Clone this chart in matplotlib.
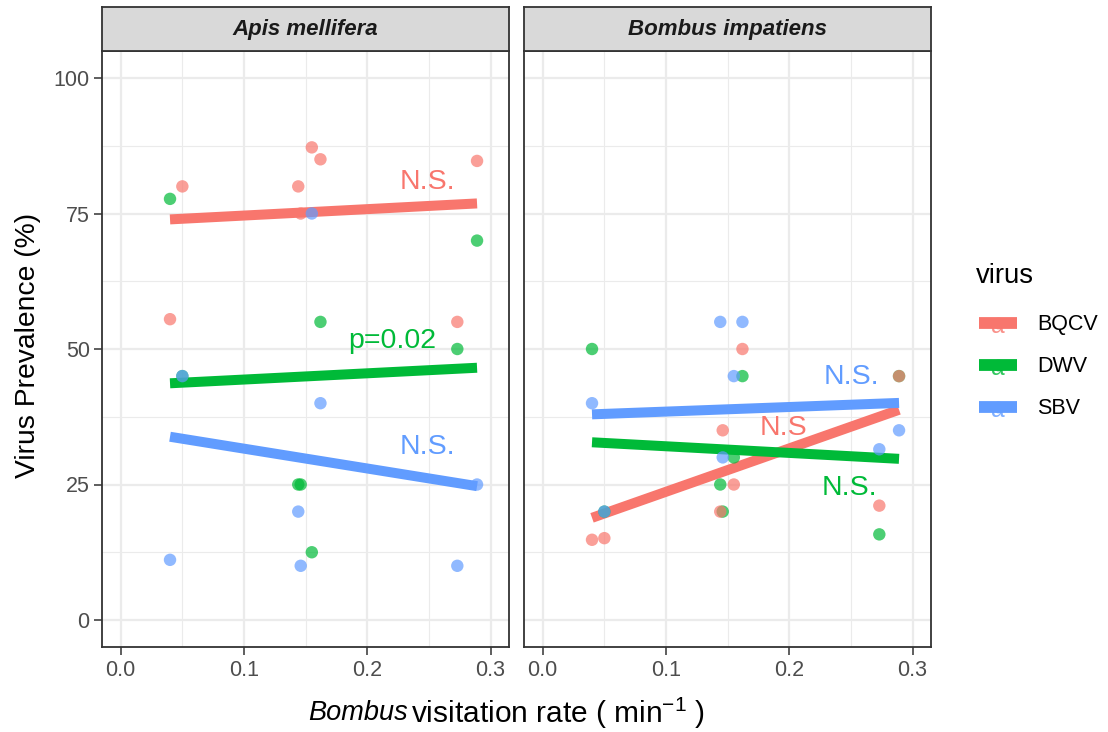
import numpy as np
import matplotlib
matplotlib.use("Agg")
import matplotlib.pyplot as plt
from matplotlib.lines import Line2D
from matplotlib.text import Text
from matplotlib.legend_handler import HandlerBase

# ---------------- data ----------------
panels = ["Apis mellifera", "Bombus impatiens"]
viruses = ["BQCV", "DWV", "SBV"]
x_sites = [0.040, 0.050, 0.144, 0.146, 0.155, 0.162, 0.273, 0.289]

bqcv_apis = [55.5, 80.0, 80.0, 75.0, 87.2, 85.0, 55.0, 84.7]
dwv_apis = [77.7, 45.0, 25.0, 25.0, 12.5, 55.0, 50.0, 70.0]
sbv_apis = [11.1, 45.0, 20.0, 10.0, 75.0, 40.0, 10.0, 25.0]

bqcv_bomb = [14.8, 15.1, 20.0, 35.0, 25.0, 50.0, 21.1, 45.0]
dwv_bomb = [50.0, 20.0, 25.0, 20.0, 30.0, 45.0, 15.8, 45.0]
sbv_bomb = [40.0, 20.0, 55.0, 30.0, 45.0, 55.0, 31.5, 35.0]

# annotation labels: (text, virus, x, y)
ann_apis = [("N.S.", "BQCV", 0.249, 80.8), ("p=0.02", "DWV", 0.220, 51.5),
            ("N.S.", "SBV", 0.249, 31.9)]
ann_bomb = [("N.S.", "SBV", 0.250, 44.8), ("N.S", "BQCV", 0.195, 35.4),
            ("N.S.", "DWV", 0.249, 24.3)]

x_ticks = [0.0, 0.1, 0.2, 0.3]
y_ticks = [0, 25, 50, 75, 100]

# ---------------- style ----------------
plt.rcParams['font.family'] = ['Liberation Sans', 'DejaVu Sans']
plt.rcParams['mathtext.fontset'] = 'custom'
plt.rcParams['mathtext.rm'] = 'Liberation Sans'
plt.rcParams['mathtext.it'] = 'Liberation Sans:italic'

colors = {"BQCV": "#F8766D", "DWV": "#00BA38", "SBV": "#619CFF"}
grid_c = "#EBEBEB"
border_c = "#333333"
tick_text_c = "#4D4D4D"

W, H = 1108, 732
fig = plt.figure(figsize=(W / 100, H / 100), dpi=100)

def fx(px):
    return px / W

def fy(py):
    return 1 - py / H

ax_top, ax_bot = 50.9, 647.1
strip_top = 7.0
lefts = [102.2, 524.2]
width_px = 406.9

data = {
    "Apis mellifera": {"BQCV": bqcv_apis, "DWV": dwv_apis, "SBV": sbv_apis},
    "Bombus impatiens": {"BQCV": bqcv_bomb, "DWV": dwv_bomb, "SBV": sbv_bomb},
}
anns = {"Apis mellifera": ann_apis, "Bombus impatiens": ann_bomb}

for i, name in enumerate(panels):
    ax = fig.add_axes([fx(lefts[i]), fy(ax_bot), width_px / W, (ax_bot - ax_top) / H])
    ax.set_xlim(-0.015, 0.315)
    ax.set_ylim(-5, 105)
    ax.set_xticks(x_ticks)
    ax.set_xticklabels([f"{t:.1f}" for t in x_ticks])
    ax.set_yticks(y_ticks)
    ax.set_xticks([0.05, 0.15, 0.25], minor=True)
    ax.set_yticks([12.5, 37.5, 62.5, 87.5], minor=True)
    ax.grid(which='major', color=grid_c, lw=1.6, zorder=0)
    ax.grid(which='minor', color=grid_c, lw=0.8, zorder=0)
    ax.set_axisbelow(True)
    for s in ax.spines.values():
        s.set_color(border_c)
        s.set_linewidth(1.3)
    ax.tick_params(axis='both', which='major', length=5.5, width=1.1, color=border_c,
                   labelsize=15.5, labelcolor=tick_text_c, pad=3.5)
    ax.tick_params(axis='both', which='minor', length=0)
    if i == 1:
        ax.tick_params(axis='y', labelleft=False, length=0)

    xs = np.array(x_sites)
    # regression lines (linear fit per virus)
    for v in viruses:
        ys = np.array(data[name][v])
        k, b = np.polyfit(xs, ys, 1)
        xl = np.array([xs.min(), xs.max()])
        ax.plot(xl, k * xl + b, color=colors[v], lw=7.2, solid_capstyle='butt', zorder=2)
    # points
    for v in ["DWV", "BQCV", "SBV"]:
        ax.scatter(xs, data[name][v], s=80, color=colors[v], alpha=0.7,
                   edgecolors='none', zorder=3)
    for txt, v, tx, ty in anns[name]:
        ax.text(tx, ty, txt, color=colors[v], fontsize=20.5, ha='center', va='center', zorder=4)

    # strip
    sax = fig.add_axes([fx(lefts[i]), fy(ax_top), width_px / W, (ax_top - strip_top) / H])
    sax.set_facecolor("#D9D9D9")
    sax.set_xticks([])
    sax.set_yticks([])
    for s in sax.spines.values():
        s.set_color(border_c)
        s.set_linewidth(1.3)
    sax.text(0.5, 0.48, name, transform=sax.transAxes, ha='center', va='center',
             fontsize=16, fontweight='bold', fontstyle='italic', color="#1A1A1A")

# axis titles
fig.text(fx(28), fy(345), "Virus Prevalence (%)", rotation=90, ha='center', va='center',
         fontsize=20.3, color='black')
fig.text(fx(308), fy(713), "Bombus", ha='left', va='center', fontsize=19.5,
         fontstyle='italic', color='black')
fig.text(fx(411), fy(713), r"visitation rate ( min$^{-1}$ )", ha='left', va='center',
         fontsize=21.5, color='black')

# legend
class KeyHandler(HandlerBase):
    def create_artists(self, legend, orig_handle, xdescent, ydescent, width, height,
                       fontsize, trans):
        c = orig_handle.get_color()
        y = height / 2 - ydescent
        ln = Line2D([-xdescent, width - xdescent], [y, y], color=c, lw=8.5,
                    solid_capstyle='butt', transform=trans)
        pt = Line2D([width / 2 - xdescent], [y], marker='o', ms=8.5, color=c, alpha=0.7,
                    markeredgewidth=0, linestyle='none', transform=trans)
        tx = Text(width / 2 - xdescent, y - 2, "a", color=c, fontsize=fontsize * 1.15,
                  ha='center', va='center', alpha=0.8, transform=trans)
        return [ln, pt, tx]

fig.text(fx(976), fy(276), "virus", ha='left', va='center', fontsize=19.8, color='black')
handles = [Line2D([], [], color=colors[v]) for v in viruses]
leg = fig.legend(handles, viruses, loc='upper left',
                 bbox_to_anchor=(fx(979), fy(311)), frameon=False,
                 fontsize=15.5, handlelength=1.77,
                 handleheight=1.3, labelspacing=0.84, handletextpad=0.93,
                 borderpad=0, borderaxespad=0,
                 handler_map={Line2D: KeyHandler()})

fig.savefig("out.png", dpi=100)
